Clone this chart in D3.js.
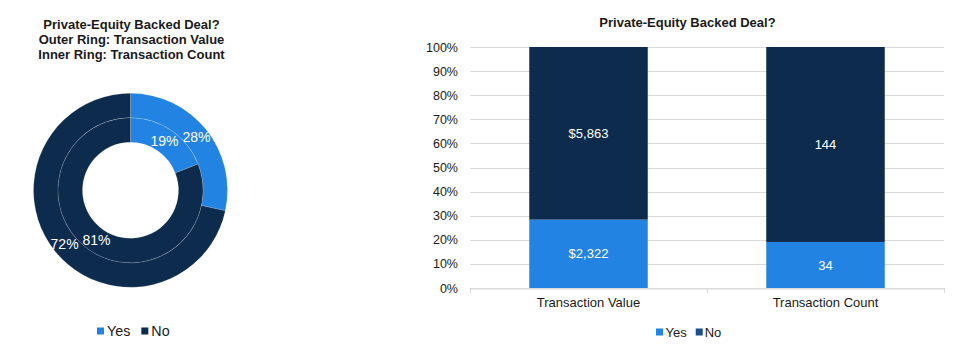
<!DOCTYPE html>
<html>
<head>
<meta charset="utf-8">
<script src="https://cdn.jsdelivr.net/npm/d3@7"></script>
<style>
  html, body { margin: 0; padding: 0; background: #fff; }
  svg { display: block; font-family: "Liberation Sans", Arial, sans-serif; }
</style>
</head>
<body>
<svg id="chart" width="964" height="349"></svg>
<script>
// Deal counts and values split by whether the deal was private-equity backed
const categories = ["Transaction Value", "Transaction Count"];
const seriesNames = ["Yes", "No"];
const yesValues = [2322, 34];
const noValues = [5863, 144];
const valuePrefix = ["$", ""];
const yTicks = [0, 0.1, 0.2, 0.3, 0.4, 0.5, 0.6, 0.7, 0.8, 0.9, 1];

const colYes = "#2383e2";
const colNo = "#0c2b4d";
const colNoLegendBar = "#1a4f8b";

const svg = d3.select("#chart");
const fmtNum = d3.format(",");
const fmtPct = d3.format(".0%");

// ---------- Doughnut: outer ring = value, inner ring = count ----------
const cx = 130.5, cy = 190.3;
const rings = [
  { idx: 0, r0: 72.5, r1: 97 },   // Transaction Value
  { idx: 1, r0: 48, r1: 72.5 }    // Transaction Count
];
const pie = d3.pie().sort(null).value(d => d.v);
const donut = svg.append("g").attr("transform", `translate(${cx},${cy})`);

rings.forEach(ring => {
  const data = [
    { name: seriesNames[0], v: yesValues[ring.idx] },
    { name: seriesNames[1], v: noValues[ring.idx] }
  ];
  const total = d3.sum(data, d => d.v);
  const arcs = pie(data);
  const arc = d3.arc().innerRadius(ring.r0).outerRadius(ring.r1);
  const mid = (ring.r0 + ring.r1) / 2;
  const labelArc = d3.arc().innerRadius(mid).outerRadius(mid);
  donut.selectAll(null).data(arcs).enter().append("path")
    .attr("d", arc)
    .attr("fill", d => d.data.name === "Yes" ? colYes : colNo)
    .attr("stroke", "rgba(255,255,255,0.2)")
    .attr("stroke-width", 0.8);
  donut.selectAll(null).data(arcs).enter().append("text")
    .attr("transform", d => `translate(${labelArc.centroid(d)})`)
    .attr("text-anchor", "middle")
    .attr("dy", "0.36em")
    .attr("fill", "#fff")
    .attr("font-size", 14)
    .text(d => fmtPct(d.data.v / total));
});

// Doughnut title
const leftTitle = ["Private-Equity Backed Deal?", "Outer Ring: Transaction Value", "Inner Ring: Transaction Count"];
svg.append("g").selectAll("text").data(leftTitle).enter().append("text")
  .attr("x", 131.5)
  .attr("y", (d, i) => 29 + i * 14.8)
  .attr("text-anchor", "middle")
  .attr("font-weight", "bold")
  .attr("font-size", 13)
  .attr("fill", "#1a1a1a")
  .text(d => d);

// Legend helper: square swatch followed by the series name
function legend(x0, y0, items, fontSize, gap) {
  const g = svg.append("g").attr("transform", `translate(${x0},${y0})`);
  let x = 0;
  items.forEach(it => {
    g.append("rect").attr("x", x).attr("y", -3.5).attr("width", 7).attr("height", 7).attr("fill", it.color);
    const t = g.append("text").attr("x", x + it.textOff).attr("y", 0).attr("dy", "0.36em")
      .attr("font-size", fontSize).attr("fill", "#1a1a1a").text(it.name);
    x += it.textOff + t.node().getComputedTextLength() + gap;
  });
}
legend(97, 331, [
  { name: seriesNames[0], color: colYes, textOff: 10 },
  { name: seriesNames[1], color: colNo, textOff: 10 }
], 14.3, 11);

// ---------- 100% stacked columns ----------
const plot = { left: 470, right: 944, top: 47, bottom: 288 };
const x = d3.scaleBand().domain(categories).range([plot.left, plot.right])
  .paddingInner(0.5).paddingOuter(0.25);
const y = d3.scaleLinear().domain([0, 1]).range([plot.bottom, plot.top]);

const right = svg.append("g");

// gridlines
right.selectAll(".grid").data(yTicks).enter().append("line")
  .attr("x1", plot.left).attr("x2", plot.right)
  .attr("y1", d => Math.round(y(d)) + 0.5).attr("y2", d => Math.round(y(d)) + 0.5)
  .attr("stroke", "#d9d9d9").attr("stroke-width", 1);

// y tick labels
right.selectAll(".ytick").data(yTicks).enter().append("text")
  .attr("x", 458).attr("y", d => y(d)).attr("dy", "0.36em")
  .attr("text-anchor", "end").attr("font-size", 12.5).attr("fill", "#1a1a1a")
  .text(d => fmtPct(d));

// x axis
const xAxis = d3.axisBottom(x).tickSize(0).tickPadding(9);
const xg = right.append("g").attr("transform", `translate(0,${plot.bottom + 0.5})`).call(xAxis);
xg.select(".domain").attr("stroke", "#d9d9d9");
xg.selectAll("text").attr("font-size", 13).attr("fill", "#1a1a1a")
  .attr("font-family", "Liberation Sans, Arial, sans-serif");
const bounds = [plot.left, plot.left + x.step(), plot.right];
right.selectAll(".xt").data(bounds).enter().append("line")
  .attr("x1", d => Math.round(d) + 0.5).attr("x2", d => Math.round(d) + 0.5)
  .attr("y1", plot.bottom).attr("y2", plot.bottom + 5)
  .attr("stroke", "#d9d9d9");

// stacked bars
const rows = categories.map((c, i) => ({ cat: c, Yes: yesValues[i], No: noValues[i], prefix: valuePrefix[i] }));
const stack = d3.stack().keys(seriesNames).offset(d3.stackOffsetExpand);
const layers = stack(rows);
layers.forEach(layer => {
  const key = layer.key;
  right.selectAll(null).data(layer).enter().append("rect")
    .attr("x", d => x(d.data.cat))
    .attr("width", x.bandwidth())
    .attr("y", d => y(d[1]))
    .attr("height", d => y(d[0]) - y(d[1]))
    .attr("fill", key === "Yes" ? colYes : colNo);
  right.selectAll(null).data(layer).enter().append("text")
    .attr("x", d => x(d.data.cat) + x.bandwidth() / 2)
    .attr("y", d => (y(d[0]) + y(d[1])) / 2)
    .attr("dy", "0.36em")
    .attr("text-anchor", "middle")
    .attr("font-size", 13)
    .attr("fill", "#fff")
    .text(d => d.data.prefix + fmtNum(d.data[key]));
});

// column chart title
svg.append("text").attr("x", 687.5).attr("y", 27)
  .attr("text-anchor", "middle").attr("font-weight", "bold").attr("font-size", 13)
  .attr("fill", "#1a1a1a").text("Private-Equity Backed Deal?");

legend(656, 332, [
  { name: seriesNames[0], color: colYes, textOff: 9.5 },
  { name: seriesNames[1], color: colNoLegendBar, textOff: 9 }
], 13, 9);
</script>
</body>
</html>
